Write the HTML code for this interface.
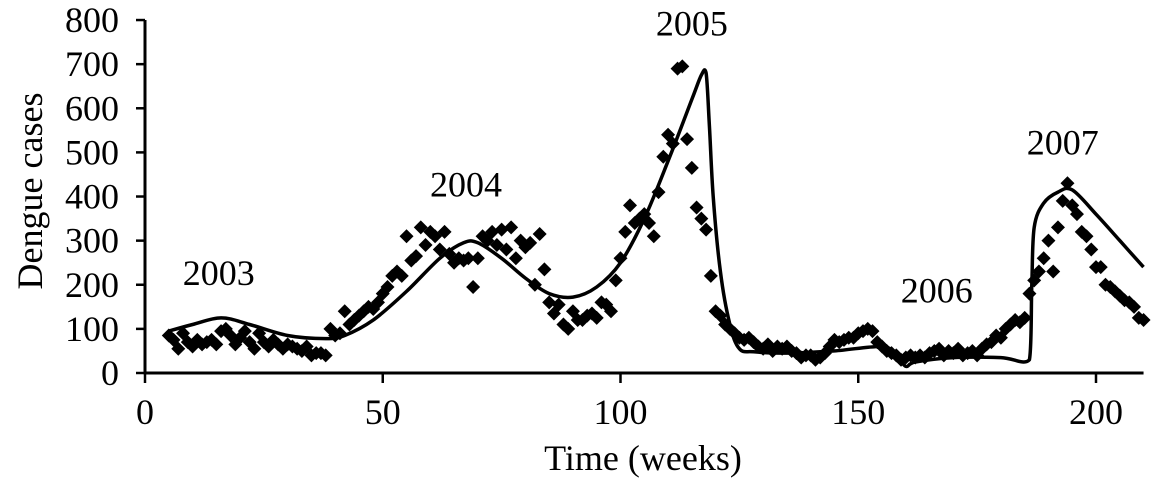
<!DOCTYPE html>
<html><head><meta charset="utf-8"><style>
body{margin:0;background:#fff}
svg{display:block;font-family:"Liberation Serif",serif}
</style></head><body>
<svg id="chart" width="1153" height="479">
<g id="axes"></g><g id="marks"></g><g id="labels"></g>
</svg>
<script>
const obsWeeks=[5,6,7,8,9,10,11,12,13,14,15,16,17,18,19,20,21,22,23,24,25,26,27,28,29,30,31,32,33,34,35,36,37,38,39,40,41,42,43,44,45,46,47,48,49,50,51,52,53,54,55,56,57,58,59,60,61,62,63,64,65,66,67,68,69,70,71,72,73,74,75,76,77,78,79,80,81,82,83,84,85,86,87,88,89,90,91,92,93,94,95,96,97,98,99,100,101,102,103,104,105,106,107,108,109,110,111,112,113,114,115,116,117,118,119,120,121,122,123,124,125,126,127,128,129,130,131,132,133,134,135,136,137,138,139,140,141,142,143,144,145,146,147,148,149,150,151,152,153,154,155,156,157,158,159,160,161,162,163,164,165,166,167,168,169,170,171,172,173,174,175,176,177,178,179,180,181,182,183,184,185,186,187,188,189,190,191,192,193,194,195,196,197,198,199,200,201,202,203,204,205,206,207,208,209,210];
const obsCases=[85,75,55,90,70,60,75,65,70,75,65,95,100,85,65,80,95,70,55,90,70,60,75,65,55,65,60,55,50,60,40,45,45,40,100,85,90,140,110,120,130,140,150,145,160,180,195,220,230,220,310,255,265,330,290,320,310,280,320,270,250,260,255,260,195,260,310,300,320,290,325,280,330,260,300,285,295,200,315,235,160,135,155,110,100,140,120,120,130,135,125,160,155,140,210,260,320,380,340,350,360,340,310,410,490,540,520,690,695,530,465,375,350,325,220,140,130,110,100,90,80,75,80,70,60,55,65,50,60,55,60,50,45,35,40,40,30,35,45,60,75,70,75,80,80,90,95,100,95,70,60,50,45,40,30,35,40,35,40,35,45,50,55,40,50,45,55,40,45,50,40,55,65,70,85,80,100,110,120,115,125,180,210,230,260,300,230,330,390,430,380,360,320,310,280,240,240,200,195,185,175,165,160,150,125,120];
const modelWeeks=[5,10,16,22,30,38,42,48,55,62,67,70,75,80,85,90,95,100,105,110,115,117,118,118.7,119.5,121,123,125,128,135,145,155,158,160,162,170,180,186,186.5,187,189,192,195,200,205,210];
const modelCases=[95,110,125,110,85,78,85,120,185,260,295,295,260,215,180,172,195,250,350,480,620,675,680,560,400,230,110,55,48,45,50,60,40,15,25,35,35,30,200,330,385,410,415,360,300,240];
const xTicks=[0,50,100,150,200];
const yTicks=[0,100,200,300,400,500,600,700,800];
const yearLabels=["2003","2004","2005","2006","2007"];
const yearWeeks=[15.5,67.5,115,166.5,193];
const yearLevels=[200,400,765,160,495];

const X0=145,XS=4.755,Y0=373,YS=0.4412;
const sx=w=>X0+w*XS, sy=v=>Y0-v*YS;
const NS="http://www.w3.org/2000/svg";
function mk(t,a,p){const e=document.createElementNS(NS,t);for(const k in a)e.setAttribute(k,a[k]);p.appendChild(e);return e;}
const axes=document.getElementById('axes'),marks=document.getElementById('marks'),labels=document.getElementById('labels');

let ax=mk('path',{d:`M${sx(0)},${sy(800)}V${Y0}H${sx(210)}`,fill:'none',stroke:'#000','stroke-width':3},axes);


yTicks.forEach(v=>{
 const t=mk('line',{x1:136,x2:X0,y1:sy(v),y2:sy(v),stroke:'#000','stroke-width':2.5},axes);
 
 
 const l=mk('text',{x:119,y:sy(v)+12,'text-anchor':'end','font-size':36},labels);
 l.textContent=v;
 
 
});
xTicks.forEach(v=>{
 const t=mk('line',{x1:sx(v),x2:sx(v),y1:Y0,y2:Y0+10,stroke:'#000','stroke-width':2.5},axes);
 
 
 const l=mk('text',{x:sx(v),y:424,'text-anchor':'middle','font-size':36},labels);
 l.textContent=v;
 
 
});
let xt=mk('text',{x:643,y:470,'text-anchor':'middle','font-size':36},labels);
xt.textContent='Time (weeks)';


let yt=mk('text',{x:0,y:0,'text-anchor':'middle','font-size':36,transform:'translate(42,191) rotate(-90)'},labels);
yt.textContent='Dengue cases';



obsWeeks.forEach((w,i)=>{
 const cx=sx(w),cy=sy(obsCases[i]),r=7;
 const p=mk('path',{d:`M${cx},${cy-r}L${cx+r},${cy}L${cx},${cy+r}L${cx-r},${cy}Z`,fill:'#000'},marks);
 
 
});
// smooth (monotone-ish Catmull-Rom) path
const P=modelWeeks.map((w,i)=>[sx(w),sy(modelCases[i])]);
let d='M'+P[0][0].toFixed(1)+','+P[0][1].toFixed(1);
for(let i=0;i<P.length-1;i++){
 const p0=P[Math.max(0,i-1)],p1=P[i],p2=P[i+1],p3=P[Math.min(P.length-1,i+2)];
 const k=1/6;
 let c1=[p1[0]+(p2[0]-p0[0])*k,p1[1]+(p2[1]-p0[1])*k];
 let c2=[p2[0]-(p3[0]-p1[0])*k,p2[1]-(p3[1]-p1[1])*k];
 c1[0]=Math.min(Math.max(c1[0],p1[0]),p2[0]);c2[0]=Math.min(Math.max(c2[0],p1[0]),p2[0]);
 const lo=Math.min(p1[1],p2[1])-6,hi=Math.max(p1[1],p2[1])+6;
 c1[1]=Math.min(Math.max(c1[1],lo),hi);c2[1]=Math.min(Math.max(c2[1],lo),hi);
 d+=`C${c1[0].toFixed(1)},${c1[1].toFixed(1)} ${c2[0].toFixed(1)},${c2[1].toFixed(1)} ${p2[0].toFixed(1)},${p2[1].toFixed(1)}`;
}
let ln=mk('path',{d,fill:'none',stroke:'#000','stroke-width':3.5,'stroke-linejoin':'round'},marks);



yearLabels.forEach((t,i)=>{
 const l=mk('text',{x:sx(yearWeeks[i]),y:sy(yearLevels[i]),'text-anchor':'middle','font-size':36},labels);
 l.textContent=t;
 
 
});
</script>
</body></html>
